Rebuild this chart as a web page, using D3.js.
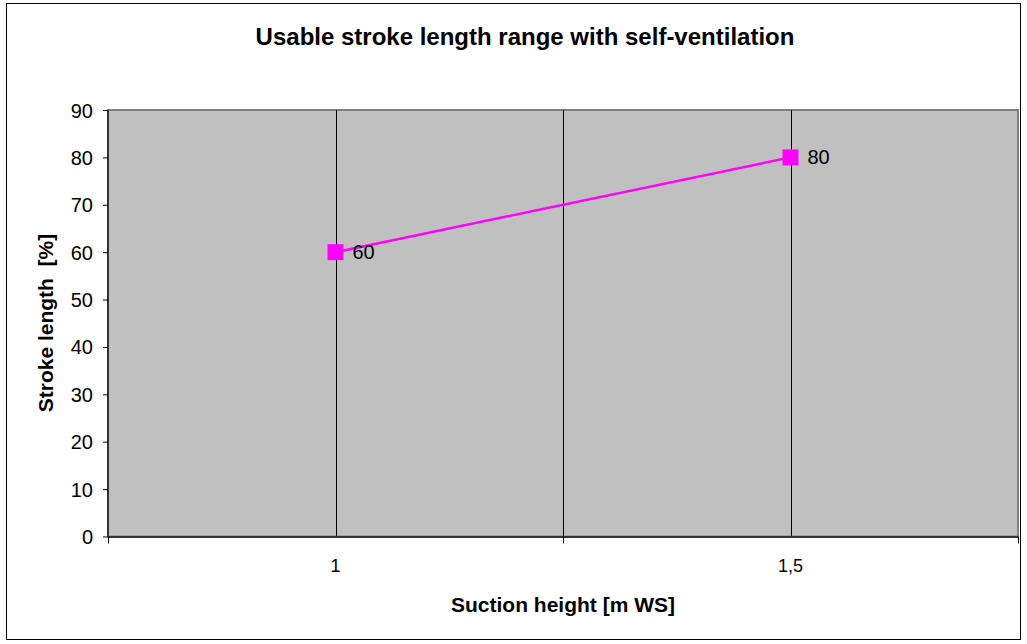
<!DOCTYPE html>
<html><head><meta charset="utf-8">
<script src="https://cdn.jsdelivr.net/npm/d3@7"></script>
<style>body{margin:0;background:#fff}svg{display:block;font-family:"Liberation Sans",Arial,sans-serif}</style>
</head><body><svg id="c" width="1027" height="644"></svg>
<script>
const categories = ["1", "1,5"];
const strokeValues = [60, 80];
const yTicks = [0, 10, 20, 30, 40, 50, 60, 70, 80, 90];
const title = "Usable stroke length range with self-ventilation";
const xTitle = "Suction height [m WS]";
const yTitle = "Stroke length  [%]";

const svg = d3.select("#c");
const L = 108, R = 1018, T = 110, B = 536.5;
svg.append("rect").attr("x", 6.5).attr("y", 3.5).attr("width", 1014).attr("height", 636)
  .attr("fill", "#fff").attr("stroke", "#000").attr("stroke-width", 1);

const x = d3.scaleBand().domain(categories).range([L, R]).paddingInner(0).paddingOuter(0);
const y = d3.scaleLinear().domain([0, 90]).range([B, T]);

svg.append("rect").attr("x", L).attr("y", T).attr("width", R - L).attr("height", B - T)
  .attr("fill", "#c0c0c0").attr("stroke", "#808080").attr("stroke-width", 2);

// gridlines at category centers and internal boundaries
const gx = categories.map(c => x(c) + x.bandwidth() / 2).concat(categories.slice(1).map(c => x(c)));
svg.append("g").selectAll("line").data(gx).join("line")
  .attr("x1", d => Math.round(d) + 0.5).attr("x2", d => Math.round(d) + 0.5)
  .attr("y1", T).attr("y2", B).attr("stroke", "#000").attr("stroke-width", 1);

// y axis
const yAxis = d3.axisLeft(y).tickValues(yTicks).tickSize(5).tickPadding(10);
const gy = svg.append("g").attr("transform", `translate(${L},0)`).call(yAxis);
gy.select(".domain").attr("stroke", "#333").attr("stroke-width", 2).attr("d", `M0,${T}V${B}`);
gy.selectAll(".tick line").attr("stroke", "#000");
gy.selectAll("text").attr("font-size", 20).attr("dy", "0.35em").attr("fill", "#000").attr("font-family", "Liberation Sans, Arial");

// x axis
const xAxis = d3.axisBottom(x).tickSize(0).tickPadding(23);
const gxA = svg.append("g").attr("transform", `translate(0,${B})`).call(xAxis);
gxA.select(".domain").attr("stroke", "#333").attr("stroke-width", 2).attr("d", `M${L},0.5H${R}`);
gxA.selectAll("text").attr("font-size", 18).attr("fill", "#000").attr("font-family", "Liberation Sans, Arial");
// boundary ticks
const bticks = categories.map(c => x(c)).concat([R]);
svg.append("g").selectAll("line").data(bticks).join("line")
  .attr("x1", d => Math.round(d) + 0.5).attr("x2", d => Math.round(d) + 0.5)
  .attr("y1", B).attr("y2", B + 7).attr("stroke", "#000");

// line
const cx = c => x(c) + x.bandwidth() / 2;
const line = d3.line().x((d, i) => cx(categories[i])).y(d => y(d));
svg.append("path").datum(strokeValues).attr("d", line).attr("fill", "none")
  .attr("stroke", "#ff00ff").attr("stroke-width", 2.5);
svg.append("g").selectAll("rect").data(strokeValues).join("rect")
  .attr("x", (d, i) => cx(categories[i]) - 8).attr("y", d => y(d) - 8)
  .attr("width", 16).attr("height", 16).attr("fill", "#ff00ff");
svg.append("g").selectAll("text").data(strokeValues).join("text")
  .attr("x", (d, i) => cx(categories[i]) + 17).attr("y", d => y(d) + 7)
  .attr("font-size", 20).attr("fill", "#000").text(d => d);

// titles
svg.append("text").attr("x", 525).attr("y", 45).attr("text-anchor", "middle")
  .attr("font-size", 24).attr("font-weight", "bold").text(title);
svg.append("text").attr("x", 563).attr("y", 612).attr("text-anchor", "middle")
  .attr("font-size", 21).attr("font-weight", "bold").text(xTitle);
svg.append("text").attr("transform", "translate(53,323) rotate(-90)").attr("text-anchor", "middle")
  .attr("font-size", 21).attr("font-weight", "bold").style("white-space", "pre").text(yTitle);
</script></body></html>
